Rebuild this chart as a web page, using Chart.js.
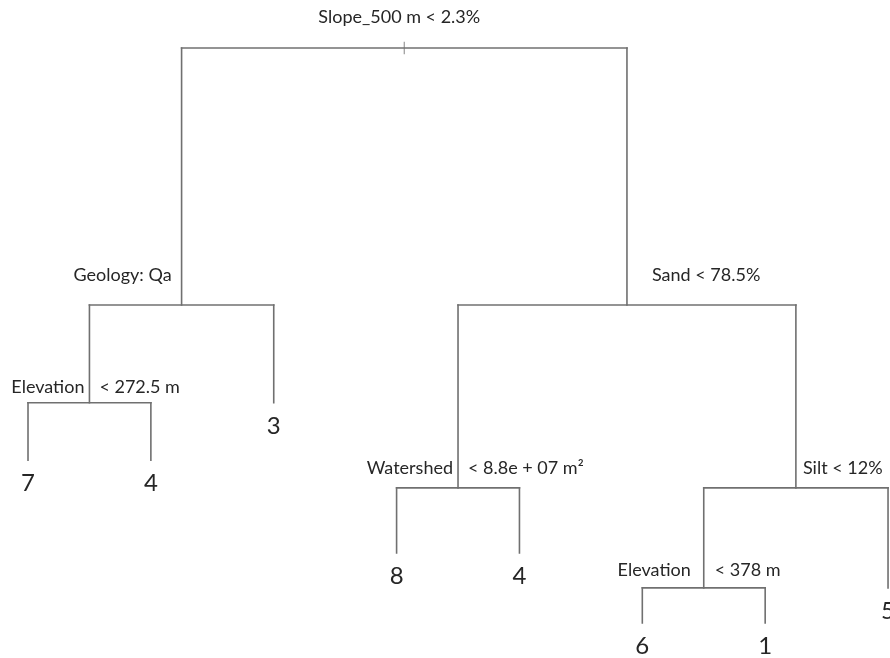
<!DOCTYPE html>
<html>
<head>
<meta charset="utf-8">
<script src="https://cdn.jsdelivr.net/npm/chart.js@4"></script>
<style>
  html, body { margin: 0; padding: 0; background: #fff; }
  #box { width: 890px; height: 658px; }
</style>
</head>
<body>
<div id="box"><canvas id="tree"></canvas></div>
<script>
// tree nodes, depth first (parent index, node height, split text, leaf class)
const nodeParent = [-1, 0, 1, 2, 2, 1, 0, 6, 7, 7, 6, 10, 11, 11, 10];
const nodeHeight = [1.000, 0.553, 0.383, 0.283, 0.283, 0.383, 0.553, 0.235, 0.122, 0.122, 0.235, 0.061, 0.000, 0.000, 0.061];
const splitName = ['Slope_500 m < 2.3%', 'Geology: Qa', 'Elevation', '', '', '', 'Sand < 78.5%', 'Watershed', '', '', 'Silt < 12%', 'Elevation', '', '', ''];
const splitRule = ['', '', '< 272.5 m', '', '', '', '', '< 8.8e + 07 m\u00b2', '', '', '', '< 378 m', '', '', ''];
const leafClass = ['', '', '', '7', '4', '3', '', '', '8', '4', '', '', '6', '1', '5'];

// where each split label goes: side and pixel nudges
const labelStyle = {
    0: {side: 'center', dx: -5, dy: -31},
    1: {side: 'left', dx: -10, dy: -30},
    2: {side: 'split', gapL: 5, gapR: 10, dy: -16},
    6: {side: 'right', dx: 25, dy: -30},
    7: {side: 'split', gapL: 5, gapR: 10, dy: -20},
    10: {side: 'right', dx: 7, dy: -20},
    11: {side: 'split', gapL: 13, gapR: 11, dy: -18}
};

const LINE = '#707070';
const TEXT = '#262626';
const FONT = 'Lato, "Open Sans", sans-serif';

// children and x positions (leaves in order, inner nodes at the mean of their children)
const kids = nodeParent.map(() => []);
nodeParent.forEach((p, i) => { if (p >= 0) kids[p].push(i); });
const nodeX = [];
let leafNo = 0;
function place(i) {
    if (kids[i].length === 0) { nodeX[i] = leafNo++; return; }
    kids[i].forEach(place);
    nodeX[i] = kids[i].reduce((s, k) => s + nodeX[k], 0) / kids[i].length;
}
place(0);

const datasets = [];
function seg(x0, y0, x1, y1) {
    datasets.push({
        data: [{x: x0, y: y0}, {x: x1, y: y1}],
        showLine: true, borderColor: LINE, borderWidth: 1.6,
        pointRadius: 0, borderCapStyle: 'square'
    });
}
nodeParent.forEach((p, i) => {
    if (p >= 0) seg(nodeX[i], nodeHeight[p], nodeX[i], nodeHeight[i]);
    if (kids[i].length) {
        const k = kids[i];
        seg(nodeX[k[0]], nodeHeight[i], nodeX[k[k.length - 1]], nodeHeight[i]);
    }
});
// small mark on the root
datasets.push({
    data: [{x: nodeX[0], y: nodeHeight[0] + 0.011}, {x: nodeX[0], y: nodeHeight[0] - 0.011}],
    showLine: true, borderColor: '#9a9a9a', borderWidth: 1.2, pointRadius: 0
});

const treeText = {
    id: 'treeText',
    afterDatasetsDraw(chart) {
        const ctx = chart.ctx;
        const sx = chart.scales.x, sy = chart.scales.y;
        ctx.save();
        ctx.fillStyle = TEXT;
        ctx.textBaseline = 'middle';
        nodeParent.forEach((p, i) => {
            const px = sx.getPixelForValue(nodeX[i]);
            const py = sy.getPixelForValue(nodeHeight[i]);
            if (leafClass[i]) {
                ctx.font = '24px ' + FONT;
                ctx.textAlign = 'center';
                ctx.fillText(leafClass[i], px, py + 23);
                return;
            }
            const st = labelStyle[i];
            if (!st) return;
            ctx.font = '18px ' + FONT;
            if (st.side === 'center') {
                ctx.textAlign = 'center';
                ctx.fillText(splitName[i], px + st.dx, py + st.dy);
            } else if (st.side === 'left') {
                ctx.textAlign = 'right';
                ctx.fillText(splitName[i], px + st.dx, py + st.dy);
            } else if (st.side === 'right') {
                ctx.textAlign = 'left';
                ctx.fillText(splitName[i], px + st.dx, py + st.dy);
            } else {
                ctx.textAlign = 'right';
                ctx.fillText(splitName[i], px - st.gapL, py + st.dy);
                ctx.textAlign = 'left';
                ctx.fillText(splitRule[i], px + st.gapR, py + st.dy);
            }
        });
        ctx.restore();
    }
};

new Chart(document.getElementById('tree'), {
    type: 'scatter',
    data: { datasets: datasets },
    options: {
        animation: false,
        responsive: true,
        maintainAspectRatio: false,
        layout: { padding: 0 },
        plugins: { legend: { display: false }, tooltip: { enabled: false } },
        scales: {
            x: { type: 'linear', min: -0.228, max: 7.016, display: false },
            y: { type: 'linear', min: -0.0609, max: 1.0835, display: false }
        }
    },
    plugins: [treeText]
});
</script>
</body>
</html>
